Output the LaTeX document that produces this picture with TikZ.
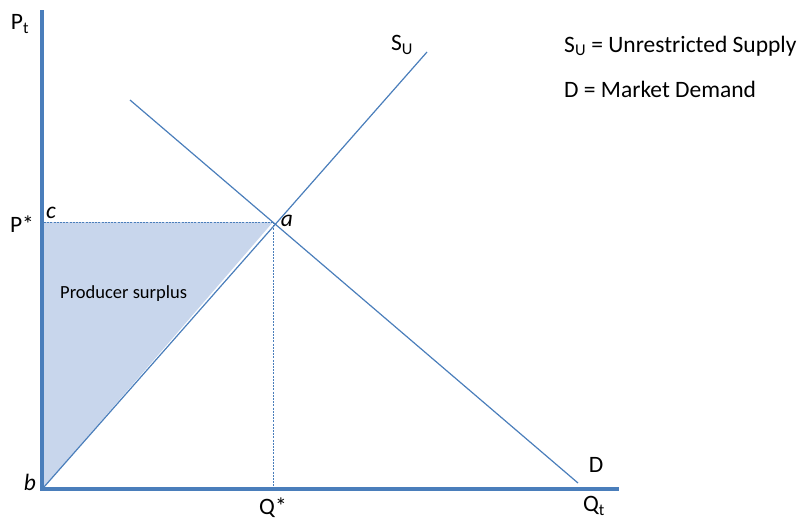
\documentclass[tikz,border=0pt]{standalone}
\usepackage{fontspec}
\setmainfont{Carlito}
\definecolor{ax}{RGB}{74,126,187}
\definecolor{fillb}{RGB}{200,214,236}
\begin{document}
\begin{tikzpicture}[x=1pt,y=-1pt,
  lbl/.style={inner sep=0pt,font=\fontsize{23.5}{27}\selectfont},
  ital/.style={inner sep=0pt,font=\fontsize{23.5}{27}\selectfont\itshape},
  curve/.style={draw=ax,line width=1.2pt},
  guide/.style={draw=ax,line width=0.8pt,dash pattern=on 2pt off 1.2pt},
  axis/.style={draw=ax,line width=4pt}]
\useasboundingbox (0,0) rectangle (801,520);
\coordinate (b) at (44,487);
\coordinate (a) at (273,222);
\coordinate (c) at (44,222);
\coordinate (q) at (273,487);
\coordinate (s1) at (427,52);
\coordinate (d0) at (130,100);
\coordinate (d1) at (578,483);
\coordinate (yt) at (42,10);
\coordinate (xe) at (619,489);
\fill[fillb] (b) -- (c) -- (a) -- cycle;
\draw[guide] (c) -- (a);
\draw[guide] (a) -- (q);
\draw[curve] (b) -- (s1);
\draw[curve] (d0) -- (d1);
\draw[axis] (yt) -- (42,489) -- (xe);
\node[lbl] (pt) at (20,24) {P\textsubscript{t}};
\node[lbl] (ps) at (22,224) {P*};
\node[ital] (lc) at (51,213) {c};
\node[ital] (la) at (287,221) {a};
\node[ital] (lb) at (30,482) {b};
\node[lbl] (qs) at (273,508) {Q*};
\node[lbl] (qt) at (594,506) {Q\textsubscript{t}};
\node[lbl] (ld) at (596,465) {D};
\node[lbl] (ls) at (402,45) {S\textsubscript{U}};
\node[lbl,anchor=west] (leg1) at (564,46) {S\textsubscript{U} = Unrestricted Supply};
\node[lbl,anchor=west] (leg2) at (564,89) {D = Market Demand};
\node[inner sep=0pt,anchor=west,font=\fontsize{18.5}{22}\selectfont] (psur) at (60,294) {Producer surplus};
\end{tikzpicture}
\end{document}
